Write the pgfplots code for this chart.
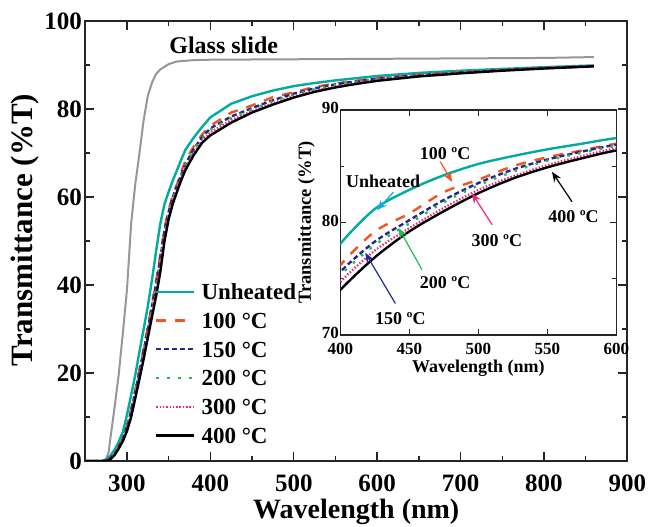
\documentclass[border=0pt]{standalone}
\usepackage{fontspec}
\setmainfont{Liberation Serif}
\usepackage{pgfplots}
\usepackage{pgfplotstable}
\pgfplotsset{compat=1.18}
\usetikzlibrary{arrows.meta}
\definecolor{cteal}{RGB}{0,172,160}
\definecolor{cred}{RGB}{240,85,35}
\definecolor{cblue}{RGB}{35,40,145}
\definecolor{cgreen}{RGB}{40,185,80}
\definecolor{cpink}{RGB}{235,40,130}
\definecolor{cgray}{RGB}{150,150,155}
\definecolor{ccyan}{RGB}{20,170,220}
\pgfplotstableread{
x T R B G P K
250 0 0 0 0 0 0
270 0 0 0 0 0 0
275 0.4 0.1 0.1 0.1 0 0
280 1.2 0.7 0.6 0.6 0.5 0.4
285 2.5 1.7 1.6 1.5 1.4 1.3
290 4.3 3.3 3.2 3.1 2.9 2.8
295 6.6 5.2 5.1 4.9 4.7 4.5
300 10.5 8.1 7.8 7.5 7.2 6.8
305 15.0 11.8 11.4 11.0 10.5 10.0
310 19.6 16.2 15.8 15.4 14.8 14.3
315 24.9 20.9 20.4 19.9 19.3 18.7
320 30.0 25.6 25.1 24.6 23.9 23.2
325 35.2 30.5 30.0 29.4 28.7 28.0
330 41.2 35.7 35.1 34.5 33.6 32.8
335 47.8 41.1 40.4 39.6 38.5 37.5
340 54.0 46.9 46.1 45.2 44.1 43.0
345 58.4 52.9 52.4 51.7 50.8 50.0
350 61.2 57.2 56.7 56.2 55.6 55.0
355 63.8 60.4 60.0 59.6 59.0 58.5
360 66.1 62.9 62.6 62.2 61.7 61.2
365 68.5 65.7 65.1 64.9 64.3 63.8
370 70.7 68.2 67.4 67.3 66.6 66.1
380 73.5 71.5 70.9 70.7 70.0 69.5
390 75.9 74.2 73.6 73.4 72.7 72.3
400 78.1 76.2 75.6 75.3 74.7 74.0
425 81.2 79.2 78.3 78.0 77.5 76.9
450 82.9 80.8 80.2 79.9 79.5 79.2
475 84.2 82.7 82.0 81.8 81.3 81.0
500 85.2 83.8 83.5 83.3 82.9 82.6
525 85.9 85.0 84.7 84.5 84.1 83.9
550 86.5 85.8 85.6 85.5 85.1 84.9
575 87.0 86.4 86.3 86.2 85.9 85.7
600 87.5 87.0 86.9 86.8 86.6 86.4
650 88.2 87.8 87.7 87.65 87.55 87.4
700 88.7 88.4 88.3 88.25 88.2 88.1
750 89.1 88.9 88.85 88.8 88.75 88.7
800 89.5 89.35 89.3 89.3 89.25 89.2
860 89.9 89.8 89.75 89.75 89.7 89.7
}\films
\pgfplotstableread{
x G
250 0
270 0
275 0.4
278 2
280 5
285 12
290 19.5
295 29
300 39
305 54
310 63
315 70
320 77.5
325 83
330 86
335 88
340 89
350 90.2
360 90.8
380 91.1
400 91.2
500 91.3
600 91.4
700 91.5
800 91.6
860 91.8
}\glass
\tikzset{
  sT/.style={cteal, line width=2.4pt},
  sR/.style={cred, line width=2.4pt, dash pattern=on 10pt off 9pt},
  sB/.style={cblue, line width=2.4pt, dash pattern=on 5pt off 3pt},
  sG/.style={cgreen, line width=2.4pt, dash pattern=on 2.5pt off 8.5pt},
  sP/.style={cpink, line width=2.2pt, dash pattern=on 1.5pt off 1.8pt},
  sK/.style={black, line width=2.4pt},
}
\begin{document}
\begin{tikzpicture}
\useasboundingbox (-85.3pt,-66pt) rectangle (563.7pt,461pt);
\begin{axis}[
  at={(0pt,0pt)}, anchor=south west, scale only axis,
  width=542pt, height=440pt,
  xmin=250, xmax=900, ymin=0, ymax=100,
  xtick={300,400,...,900}, minor xtick={250,350,...,850},
  ytick={0,20,...,100}, minor ytick={10,30,...,90},
  tick align=inside, major tick length=9pt, minor tick length=5pt,
  axis line style={line width=1.6pt, black!85},
  every tick/.style={line width=1.4pt, black!85},
  /pgf/number format/assume math mode=true,
  ticklabel style={font=\fontsize{25}{25}\selectfont\bfseries},
  xticklabel style={yshift=-10pt},
  xlabel={Wavelength (nm)}, ylabel={Transmittance (\%T)},
  xlabel style={font=\fontsize{28}{28}\selectfont\bfseries, yshift=-1pt},
  ylabel style={font=\fontsize{31}{31}\selectfont\bfseries, at={(ticklabel cs:0.525)}, yshift=-2pt},
  legend cell align=left,
  legend image code/.code={\draw[#1] (0pt,0pt) -- (38pt,0pt);},
  legend style={draw=none, fill=none, at={(axis cs:333.5,40.3)}, anchor=north west,
    font=\fontsize{23}{23}\selectfont\bfseries, inner sep=0pt,
    row sep=12.7pt,
    nodes={inner sep=0pt, text height=16pt, text depth=0pt},
    /tikz/every odd column/.append style={column sep=6pt}},
]
\addplot[cgray, line width=2pt, forget plot] table[x=x, y=G] {\glass};
\addplot[sT] table[x=x, y=T] {\films};
\addplot[sR] table[x=x, y=R] {\films};
\addplot[sB] table[x=x, y=B] {\films};
\addplot[sG] table[x=x, y=G] {\films};
\addplot[sP] table[x=x, y=P] {\films};
\addplot[sK] table[x=x, y=K] {\films};
\legend{Unheated, 100 °C, 150 °C, 200 °C, 300 °C, 400 °C}
\node[font=\fontsize{24}{24}\selectfont\bfseries] at (axis cs:416,94.5) {Glass slide};
\end{axis}
\begin{axis}[
  at={(255pt,126pt)}, anchor=south west, scale only axis,
  width=276pt, height=225pt,
  xmin=400, xmax=600, ymin=70, ymax=90,
  xtick={400,450,...,600}, ytick={70,80,90}, minor ytick={75,85},
  tick align=inside, major tick length=6pt, minor tick length=4pt,
  axis line style={line width=1.4pt, black!85},
  every tick/.style={line width=1.2pt, black!85},
  /pgf/number format/assume math mode=true,
  ticklabel style={font=\fontsize{17}{17}\selectfont\bfseries},
  xticklabel style={yshift=-5pt},
  yticklabel style={xshift=2pt, yshift=2pt},
  xlabel={Wavelength (nm)}, ylabel={Transmittance (\%T)},
  xlabel style={font=\fontsize{18}{18}\selectfont\bfseries, yshift=2pt},
  ylabel style={font=\fontsize{18.5}{18.5}\selectfont\bfseries, yshift=0pt},
]
\addplot[sT, smooth, tension=0.5] table[x=x, y=T] {\films};
\addplot[sR, smooth, tension=0.5] table[x=x, y=R] {\films};
\addplot[sB, smooth, tension=0.5] table[x=x, y=B] {\films};
\addplot[sG, smooth, tension=0.5] table[x=x, y=G] {\films};
\addplot[sP, smooth, tension=0.5] table[x=x, y=P] {\films};
\addplot[sK, smooth, tension=0.5] table[x=x, y=K] {\films};
\begin{scope}[font=\fontsize{18}{18}\selectfont\bfseries, line width=1.2pt, -{Stealth[length=10pt,width=8pt]}]
\node at (axis cs:431,83.7) {Unheated};
\draw[ccyan] (axis cs:438.6,82.7) -- (axis cs:426.6,81.1);
\node at (axis cs:476,86.1) {100 ºC};
\draw[cred] (axis cs:472.5,85.4) -- (axis cs:481,83.6);
\node at (axis cs:443.5,71.5) {150 ºC};
\draw[cblue] (axis cs:439.9,72.8) -- (axis cs:418.1,77.3);
\node at (axis cs:476,74.7) {200 ºC};
\draw[cgreen] (axis cs:459.2,75.8) -- (axis cs:442.3,79.5);
\node at (axis cs:513.5,78.4) {300 ºC};
\draw[cpink] (axis cs:510,79.8) -- (axis cs:495.4,82.6);
\node at (axis cs:569,80.5) {400 ºC};
\draw[black] (axis cs:567.9,81.85) -- (axis cs:553.4,84.5);
\end{scope}
\end{axis}
\end{tikzpicture}
\end{document}
